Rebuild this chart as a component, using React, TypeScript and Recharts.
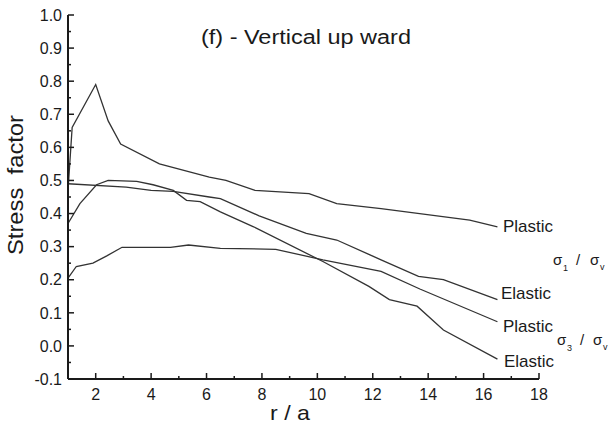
import React from 'react';
import { LineChart, Line, XAxis, YAxis } from 'recharts';

// r/a positions and stress factors for each curve
const rSigma1Plastic = [1, 1.15, 2, 2.45, 2.9, 4.3, 6.1, 6.7, 7.75, 9.7, 10.7, 12.3, 15.5, 16.5];
const sigma1Plastic = [0.47, 0.66, 0.79, 0.68, 0.61, 0.55, 0.51, 0.5, 0.47, 0.46, 0.43, 0.415, 0.38, 0.36];

const rSigma1Elastic = [1, 3.1, 4, 4.8, 6.1, 6.5, 7.9, 9.6, 10.7, 11.9, 12.3, 13.65, 14.55, 16.5];
const sigma1Elastic = [0.49, 0.48, 0.47, 0.467, 0.45, 0.445, 0.393, 0.34, 0.32, 0.275, 0.26, 0.21, 0.2, 0.14];

const rSigma3Elastic = [1, 1.43, 2.03, 2.45, 3.48, 4.07, 4.8, 5.28, 5.77, 6.5, 7.7, 10.2, 11.86, 12.6, 13.6, 14.55, 16.5];
const sigma3Elastic = [0.37, 0.43, 0.487, 0.5, 0.497, 0.487, 0.47, 0.44, 0.436, 0.405, 0.36, 0.255, 0.18, 0.14, 0.12, 0.048, -0.04];

const rSigma3Plastic = [1, 1.3, 1.9, 2.4, 2.95, 4.7, 5.35, 6.5, 8.5, 10.2, 12.3, 13.7, 16.5];
const sigma3Plastic = [0.205, 0.24, 0.25, 0.272, 0.298, 0.298, 0.305, 0.295, 0.292, 0.26, 0.225, 0.172, 0.073];

const xTicks = [2, 3, 4, 5, 6, 7, 8, 9, 10, 11, 12, 13, 14, 15, 16, 17, 18];
const yTicks = [-0.1, -0.05, 0, 0.05, 0.1, 0.15, 0.2, 0.25, 0.3, 0.35, 0.4, 0.45, 0.5, 0.55, 0.6, 0.65, 0.7, 0.75, 0.8, 0.85, 0.9, 0.95, 1.0];

const toPoints = (rs: number[], vs: number[]) => rs.map((r, i) => ({ r, v: vs[i] }));
const isMajorX = (t: number) => t % 2 === 0;
const isMajorY = (v: number) => Math.abs(Math.round(v * 10) - v * 10) < 1e-6;

const FONT = '"Liberation Sans", Arial, sans-serif';
const INK = '#1a1a1a';
const LINE = '#333';

// ticks point into the plot; labels only on the major ones
const XTick = (props: any) => {
  const { x, y, payload } = props;
  const major = isMajorX(payload.value);
  return (
    <g>
      <path d={`M${x},${y}L${x},${y - (major ? 6 : 3)}`} stroke={INK} strokeWidth={1.5} fill="none" />
      {major && (
        <text x={x} y={y + 21} textAnchor="middle" fontSize={16} fontFamily={FONT} fill={INK}>
          {payload.value}
        </text>
      )}
    </g>
  );
};

const YTick = (props: any) => {
  const { x, y, payload } = props;
  const v = payload.value;
  const major = isMajorY(v);
  return (
    <g>
      <path d={`M${x},${y}L${x + (major ? 6 : 3)},${y}`} stroke={INK} strokeWidth={1.5} fill="none" />
      {major && (
        <text x={x - 6} y={y + 5.7} textAnchor="end" fontSize={16} fontFamily={FONT} fill={INK}>
          {v.toFixed(1)}
        </text>
      )}
    </g>
  );
};

export default function App() {
  return (
    <div style={{ position: 'absolute', left: 0, top: 0, width: 610, height: 426, background: '#fff' }}>
      <LineChart width={610} height={426} margin={{ top: 15, right: 71, bottom: 0, left: 0 }}>
        <XAxis
          type="number"
          dataKey="r"
          domain={[1, 18]}
          ticks={xTicks}
          interval={0}
          height={47}
          tickSize={0}
          tickMargin={0}
          tickLine={false}
          stroke={INK}
          axisLine={{ stroke: INK, strokeWidth: 2 }}
          tick={<XTick />}
        />
        <YAxis
          type="number"
          dataKey="v"
          domain={[-0.1, 1]}
          ticks={yTicks}
          interval={0}
          width={68}
          tickSize={0}
          tickMargin={0}
          tickLine={false}
          allowDataOverflow
          stroke={INK}
          axisLine={{ stroke: INK, strokeWidth: 2 }}
          tick={<YTick />}
        />
        <Line data={toPoints(rSigma1Plastic, sigma1Plastic)} dataKey="v" type="linear" stroke={LINE} strokeWidth={1.3} dot={false} isAnimationActive={false} />
        <Line data={toPoints(rSigma1Elastic, sigma1Elastic)} dataKey="v" type="linear" stroke={LINE} strokeWidth={1.3} dot={false} isAnimationActive={false} />
        <Line data={toPoints(rSigma3Elastic, sigma3Elastic)} dataKey="v" type="linear" stroke={LINE} strokeWidth={1.3} dot={false} isAnimationActive={false} />
        <Line data={toPoints(rSigma3Plastic, sigma3Plastic)} dataKey="v" type="linear" stroke={LINE} strokeWidth={1.3} dot={false} isAnimationActive={false} />
      </LineChart>
      <svg width={610} height={426} style={{ position: 'absolute', left: 0, top: 0, pointerEvents: 'none' }} fontFamily={FONT} fill={INK}>
        <text x={201} y={44} fontSize={20} textLength={210} lengthAdjust="spacingAndGlyphs">(f) - Vertical up ward</text>
        <text
          transform="translate(23,185) rotate(-90)"
          textAnchor="middle"
          fontSize={22}
          textLength={140}
          lengthAdjust="spacingAndGlyphs"
          style={{ whiteSpace: 'pre' }}
        >
          {'Stress  factor'}
        </text>
        <text x={290} y={420} textAnchor="middle" fontSize={21} textLength={40} lengthAdjust="spacingAndGlyphs" style={{ whiteSpace: 'pre' }}>
          {'r / a'}
        </text>

        <text x={503} y={232} fontSize={17}>Plastic</text>
        <text x={501} y={299} fontSize={17}>Elastic</text>
        <text x={503} y={332} fontSize={17}>Plastic</text>
        <text x={504} y={367} fontSize={17}>Elastic</text>

        <text x={553} y={265} fontSize={15}>σ</text>
        <text x={563} y={271} fontSize={9}>1</text>
        <text x={576} y={265} fontSize={15}>/</text>
        <text x={590} y={265} fontSize={15}>σ</text>
        <text x={600} y={270} fontSize={9}>v</text>

        <text x={557} y={345} fontSize={15}>σ</text>
        <text x={567} y={351} fontSize={9}>3</text>
        <text x={580} y={345} fontSize={15}>/</text>
        <text x={593} y={345} fontSize={15}>σ</text>
        <text x={603} y={350} fontSize={9}>v</text>
      </svg>
    </div>
  );
}
